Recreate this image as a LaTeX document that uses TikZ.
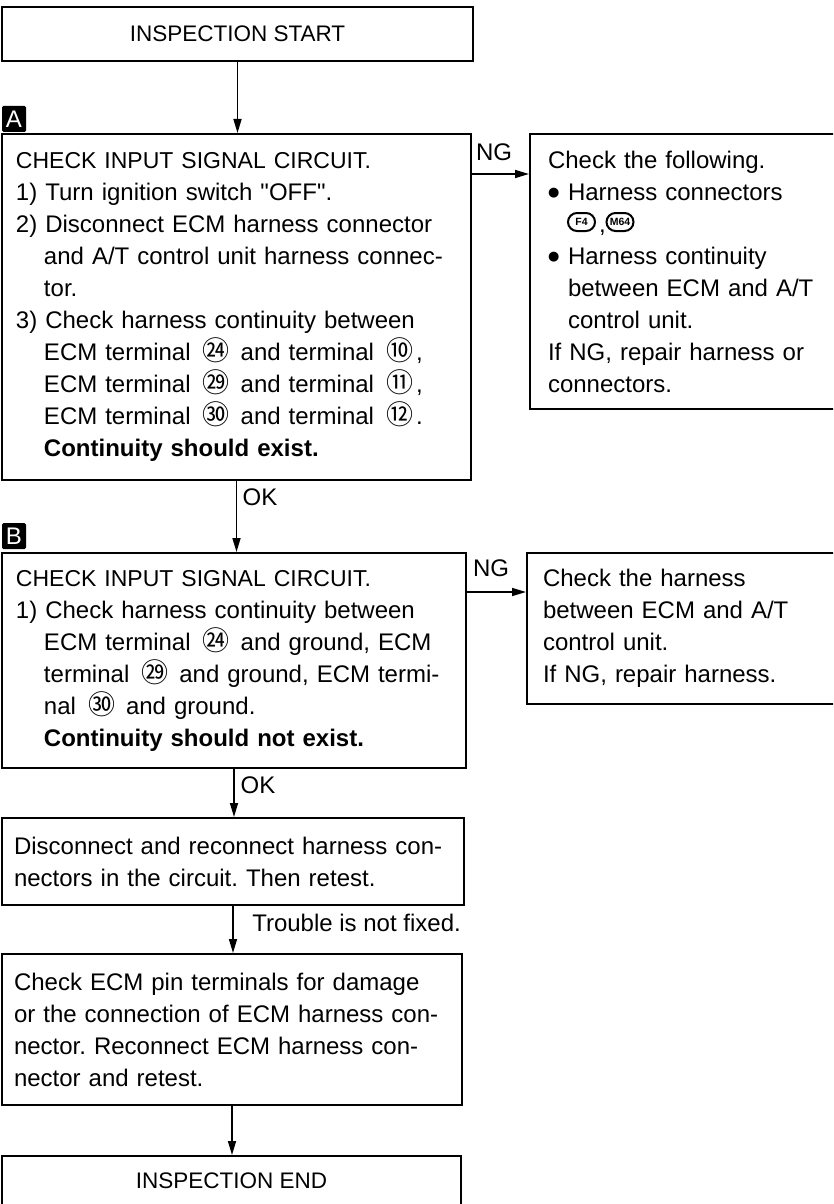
\documentclass[tikz,border=0pt]{standalone}
\usepackage{fontspec}
\setmainfont{Liberation Sans}[Ligatures=TeXOff]
\newfontfamily\cjk{Noto Sans CJK SC}
\newfontfamily\dejavu{DejaVu Sans}
\usetikzlibrary{arrows.meta}
\newcommand\cnum[1]{\hspace{4pt}{\cjk\fontsize{27}{32}\selectfont #1}\hspace{3pt}}
\newcommand\blt{\makebox[20pt][l]{\raisebox{4pt}{\dejavu\fontsize{13}{13}\selectfont ●}}}
\begin{document}
\frenchspacing
\begin{tikzpicture}[x=1pt,y=-1pt,
  box/.style={draw,line width=2pt,anchor=north west,inner ysep=0pt,align=left,font=\fontsize{24}{32}\selectfont},
  arr/.style={line width=1.6pt,-{Triangle[length=14pt,width=8pt]}},
  lbl/.style={font=\fontsize{24}{24}\selectfont,inner sep=0pt},
  conn/.style={draw,line width=2pt,rounded corners=9pt,inner sep=1pt,minimum width=27pt,minimum height=18pt,font=\fontsize{10.5}{11}\selectfont\bfseries},
  tag/.style={fill=black,text=white,rounded corners=1.5pt,minimum width=24pt,minimum height=26pt,inner sep=0pt,font=\fontsize{24}{24}\selectfont}]
\clip (0,0) rectangle (833,1204);

\node[box,minimum width=471,minimum height=54,align=center,font=\fontsize{22.5}{24}\selectfont] (start) at (1,6) {INSPECTION START};

\node[tag] (tA) at (14,119) {A};
\node[box,minimum width=469,minimum height=346,inner xsep=14,text width=441] (a) at (1,133) {%
{\fontsize{23}{32}\selectfont CHECK INPUT SIGNAL CIRCUIT.}\\
1) Turn ignition switch "OFF".\\
2) Disconnect ECM harness connector\\
\hspace*{28pt}and A/T control unit harness connec-\\
\hspace*{28pt}tor.\\
3) Check harness continuity between\\
\hspace*{28pt}ECM terminal \cnum{㉔} and terminal \cnum{⑩},\\
\hspace*{28pt}ECM terminal \cnum{㉙} and terminal \cnum{⑪},\\
\hspace*{28pt}ECM terminal \cnum{㉚} and terminal \cnum{⑫}.\\
\hspace*{28pt}\textbf{Continuity should exist.}};

\node[box,minimum width=316,minimum height=275,inner xsep=18,text width=280] (r1) at (529,133) {%
Check the following.\\
\blt Harness connectors\\
\hspace*{51pt},\\
\blt Harness continuity\\
\hspace*{20pt}between ECM and A/T\\
\hspace*{20pt}control unit.\\
If NG, repair harness or\\
connectors.};
\node[conn] (f4) at (581.5,222) {F4};
\node[conn] (m64) at (620,222) {M64};

\node[tag] (tB) at (14,536) {B};
\node[box,minimum width=464,minimum height=215,inner xsep=14,text width=436] (b) at (1,552) {%
{\fontsize{23}{32}\selectfont CHECK INPUT SIGNAL CIRCUIT.}\\
1) Check harness continuity between\\
\hspace*{28pt}ECM terminal \cnum{㉔} and ground, ECM\\
\hspace*{28pt}terminal \cnum{㉙} and ground, ECM termi-\\
\hspace*{28pt}nal \cnum{㉚} and ground.\\
\hspace*{28pt}\textbf{Continuity should not exist.}};

\node[box,minimum width=320,minimum height=151,inner xsep=16,text width=288] (r2) at (526,552) {%
Check the harness\\
between ECM and A/T\\
control unit.\\
If NG, repair harness.};

\node[box,minimum width=462,minimum height=87,inner xsep=12,text width=438] (c) at (1,817) {%
Disconnect and reconnect harness con-\\
nectors in the circuit. Then retest.};

\node[box,minimum width=460,minimum height=151,inner xsep=12,text width=436] (d) at (1,953) {%
Check ECM pin terminals for damage\\
or the connection of ECM harness con-\\
nector. Reconnect ECM harness con-\\
nector and retest.};

\node[box,minimum width=459,minimum height=50,align=center,font=\fontsize{22.5}{24}\selectfont] (e) at (1,1155) {INSPECTION END};

\coordinate (ng1) at (0,174);
\coordinate (ng2) at (0,592);

\draw[arr] (start.south) -- (start.south |- a.north);
\draw[arr] (a.south) -- (a.south |- b.north);
\draw[arr] (b.south) -- (b.south |- c.north);
\draw[arr] (c.south) -- (c.south |- d.north);
\draw[arr] (d.south) -- (d.south |- e.north);
\draw[arr] (a.east |- ng1) -- (r1.west |- ng1);
\draw[arr] (b.east |- ng2) -- (r2.west |- ng2);

\node[lbl] (ng1l) at (494,152) {NG};
\node[lbl] (ng2l) at (491,568) {NG};
\node[lbl] (ok1) at (260,497) {OK};
\node[lbl] (ok2) at (258,785) {OK};
\node[lbl,anchor=east] (tr) at (461,923) {Trouble is not fixed.};
\end{tikzpicture}
\end{document}
